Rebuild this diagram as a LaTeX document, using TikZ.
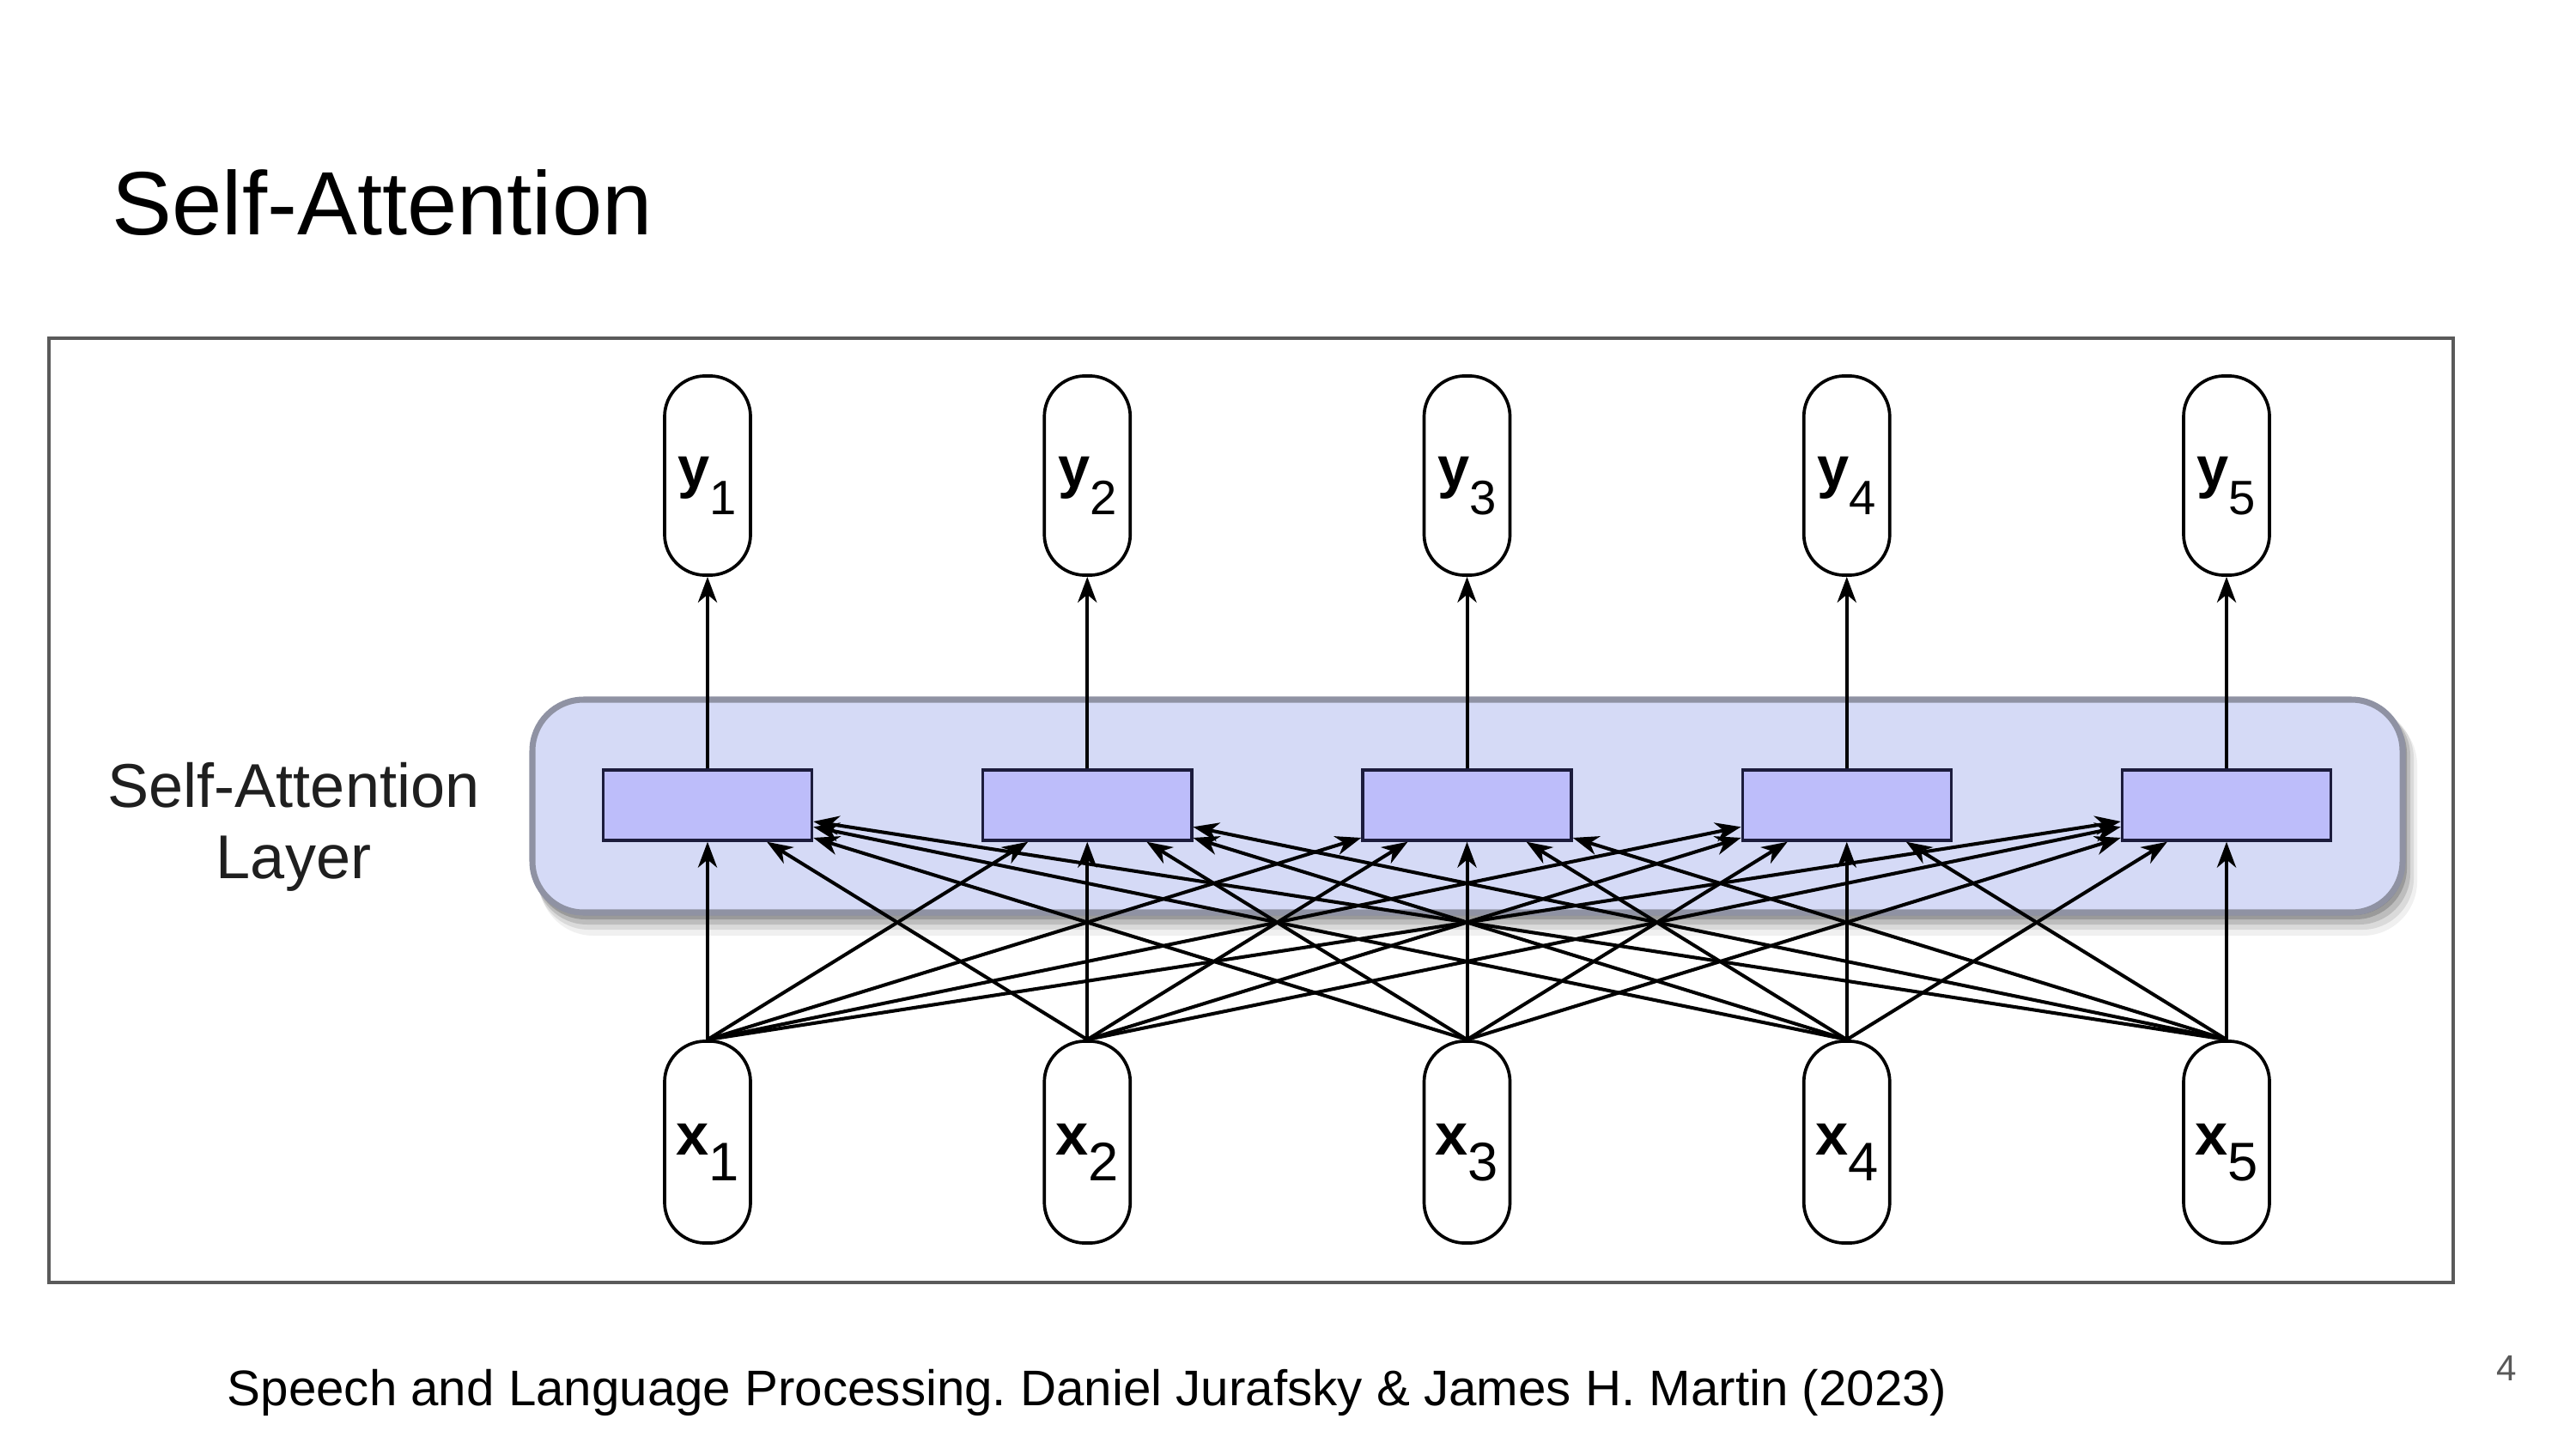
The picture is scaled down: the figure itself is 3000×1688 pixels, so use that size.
\documentclass[tikz,border=0pt]{standalone}
\usepackage{fontspec}
\setmainfont{Liberation Sans}
\usetikzlibrary{arrows.meta}
\definecolor{layerfill}{HTML}{D5DAF6}
\definecolor{layerdraw}{HTML}{8F92A3}
\definecolor{boxfill}{HTML}{BDBDFA}
\definecolor{boxdraw}{HTML}{1C1C3C}
\definecolor{framegray}{HTML}{5A5A5A}
\definecolor{pagegray}{HTML}{595959}
\newcommand\ylab[1]{{\fontsize{19pt}{19pt}\selectfont\bfseries y}\raisebox{-9.1pt}{\fontsize{16pt}{16pt}\selectfont #1}}
\newcommand\xlab[1]{{\fontsize{19.5pt}{19.5pt}\selectfont\bfseries x}\raisebox{-8.5pt}{\fontsize{18pt}{18pt}\selectfont #1}}
\frenchspacing
\begin{document}
\begin{tikzpicture}[x=0.01cm,y=-0.01cm,
  pill/.style={draw=black, line width=1.05pt, fill=white, rounded corners=13.5pt, minimum width=1cm, inner sep=0pt},
  ypill/.style={pill, minimum height=2.32cm, text height=17pt, text depth=9.1pt},
  xpill/.style={pill, minimum height=2.35cm, text height=16.8pt, text depth=8.5pt},
  attbox/.style={draw=boxdraw, fill=boxfill, line width=0.95pt, minimum width=2.43cm, minimum height=0.82cm, inner sep=0pt},
  arr/.style={-{Stealth[length=8.5pt,width=6.3pt,inset=2.6pt]}, line width=1.15pt, black},
]
\useasboundingbox (0,0) rectangle (3000,1688);
\fill[white] (0,0) rectangle (3000,1688);
% frame
\draw[framegray, line width=1.2pt] (57,394) rectangle (2857,1494);
% title
\node[anchor=base west, inner sep=0pt, font=\fontsize{29.8pt}{36pt}\selectfont] (title) at (130,274) {Self-Attention};
% layer shadow
\fill[black, opacity=0.06, rounded corners=18pt] (628,828) rectangle (2815,1090);
\fill[black, opacity=0.09, rounded corners=17pt] (626,824) rectangle (2811,1083);
\fill[black, opacity=0.13, rounded corners=17pt] (624,821) rectangle (2807,1077);
\fill[black, opacity=0.18, rounded corners=17pt] (622,818) rectangle (2803,1071);
\fill[black, opacity=0.22, rounded corners=17pt] (620,816) rectangle (2800,1066);
% layer
\draw[layerdraw, fill=layerfill, line width=2pt, rounded corners=17pt] (620,815) rectangle (2798,1063);
\node[align=center, anchor=base, inner sep=0pt, text=black!88, font=\fontsize{20.5pt}{23.6pt}\selectfont] (lbl) at (342,1023) {Self-Attention\\Layer};
% nodes
\foreach \i/\cx in {1/824,2/1266.25,3/1708.5,4/2150.75,5/2593} {
  \node[ypill] (y\i) at (\cx,554) {\ylab{\i}};
  \node[xpill] (x\i) at (\cx,1330.5) {\xlab{\i}};
  \node[attbox] (b\i) at (\cx,938) {};
}
% connections
\foreach \j in {1,...,5}{
  \foreach \i in {1,...,5}{
    \draw[arr] (x\j.north) -- (b\i);
  }
}
\foreach \i in {1,...,5}{
  \draw[arr] (b\i.north) -- (y\i.south);
}
% footer
\node[anchor=base west, inner sep=0pt, font=\fontsize{16.58pt}{20pt}\selectfont] (cite) at (264,1637) {Speech and Language Processing. Daniel Jurafsky \& James H. Martin (2023)};
\node[anchor=base west, inner sep=0pt, text=pagegray, font=\fontsize{12pt}{14pt}\selectfont] (page) at (2907,1608) {4};
\end{tikzpicture}
\end{document}
